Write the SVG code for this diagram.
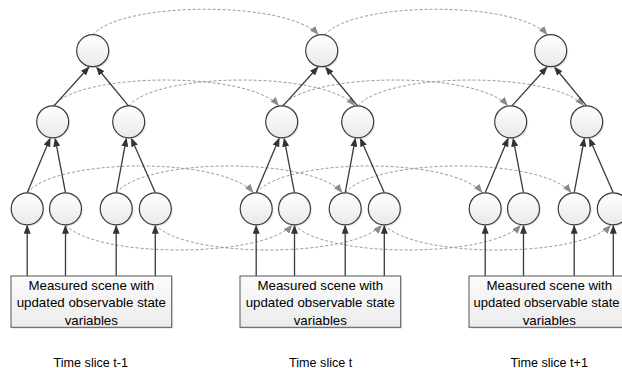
<svg xmlns="http://www.w3.org/2000/svg" width="622" height="368" viewBox="0 0 622 368">
<defs>
<linearGradient id="gNode" x1="0" y1="0" x2="0" y2="1">
<stop offset="0" stop-color="#ffffff"/>
<stop offset="1" stop-color="#e9e9e9"/>
</linearGradient>
<linearGradient id="gBox" x1="0" y1="0" x2="0" y2="1">
<stop offset="0" stop-color="#fbfbfb"/>
<stop offset="1" stop-color="#ececec"/>
</linearGradient>
<marker id="aDark" viewBox="0 0 9 7" refX="9" refY="3.5" markerWidth="9" markerHeight="7" markerUnits="userSpaceOnUse" orient="auto">
<path d="M0,0 L9,3.5 L0,7 z" fill="#333333"/>
</marker>
<marker id="aGray" viewBox="0 0 9 7" refX="9" refY="3.5" markerWidth="9" markerHeight="7" markerUnits="userSpaceOnUse" orient="auto">
<path d="M0,0 L9,3.5 L0,7 z" fill="#8a8a8a"/>
</marker>
</defs>
<style>
.node circle.c{fill:url(#gNode);stroke:#3a3a3a;stroke-width:1.2}
.node circle.s{fill:#d4d4d4;opacity:0.55}
.box rect.b{fill:url(#gBox);stroke:#555555;stroke-width:1}
.box rect.s{fill:#d4d4d4;opacity:0.55}
.tree{stroke:#3a3a3a;stroke-width:1.3;fill:none;marker-end:url(#aDark)}
.temp{stroke:#9a9a9a;stroke-width:1;stroke-dasharray:3,2;fill:none;marker-end:url(#aGray)}
.t{font-family:"Liberation Sans",Arial,sans-serif;font-size:13.3px;fill:#000;text-anchor:middle}
.lbl{font-family:"Liberation Sans",Arial,sans-serif;font-size:12.6px;fill:#000;text-anchor:middle}
</style>

<g id="connectors">
<path class="temp" d="M92.7,34.7 C122.7,0.7 288.5,0.7 318.5,35"/>
<path class="temp" d="M324.7,34.8 C354.7,0.7 517.5,0.7 547.5,35"/>
<path class="temp" d="M52.7,105.8 C82.7,71.4 249,71.4 279,106"/>
<path class="temp" d="M128.7,105.8 C158.7,71.4 325,71.4 355,106"/>
<path class="temp" d="M281.7,105.8 C311.7,71.4 478,71.4 508,106"/>
<path class="temp" d="M357.7,105.8 C387.7,71.4 554,71.4 584,106"/>
<path class="temp" d="M27.2,192.8 C57,157 223.5,157 253.5,193"/>
<path class="temp" d="M116.2,192.8 C146,157 312.5,157 342.5,193"/>
<path class="temp" d="M256.2,192.8 C286,157 452.5,157 482.5,193"/>
<path class="temp" d="M345.2,192.8 C375,157 541.5,157 571.5,193"/>
<path class="temp" d="M65.5,224.8 C95.5,258.4 262.5,258.4 292.5,224.7"/>
<path class="temp" d="M155.3,224.8 C185.3,258.4 352,258.4 382,224.7"/>
<path class="temp" d="M294.5,224.8 C324.5,258.4 491,258.4 521,224.7"/>
<path class="temp" d="M384.3,224.8 C414.3,258.4 581,258.4 611,224.7"/>

<line class="tree" x1="54" y1="105.9" x2="89.5" y2="66.5"/>
<line class="tree" x1="128.5" y1="105.9" x2="96" y2="66.5"/>
<line class="tree" x1="27.2" y1="192.8" x2="50.5" y2="137.6"/>
<line class="tree" x1="65.5" y1="192.8" x2="55" y2="137.6"/>
<line class="tree" x1="116.2" y1="192.8" x2="126.5" y2="137.6"/>
<line class="tree" x1="155.3" y1="192.8" x2="131" y2="137.6"/>
<line class="tree" x1="27.2" y1="276" x2="27.2" y2="224.8"/>
<line class="tree" x1="65.5" y1="276" x2="65.5" y2="224.8"/>
<line class="tree" x1="116.2" y1="276" x2="116.2" y2="224.8"/>
<line class="tree" x1="155.3" y1="276" x2="155.3" y2="224.8"/>

<line class="tree" x1="283" y1="105.9" x2="318.5" y2="66.5"/>
<line class="tree" x1="357.5" y1="105.9" x2="325" y2="66.5"/>
<line class="tree" x1="256.2" y1="192.8" x2="279.5" y2="137.6"/>
<line class="tree" x1="294.5" y1="192.8" x2="284" y2="137.6"/>
<line class="tree" x1="345.2" y1="192.8" x2="355.5" y2="137.6"/>
<line class="tree" x1="384.3" y1="192.8" x2="360" y2="137.6"/>
<line class="tree" x1="256.2" y1="276" x2="256.2" y2="224.8"/>
<line class="tree" x1="294.5" y1="276" x2="294.5" y2="224.8"/>
<line class="tree" x1="345.2" y1="276" x2="345.2" y2="224.8"/>
<line class="tree" x1="384.3" y1="276" x2="384.3" y2="224.8"/>

<line class="tree" x1="512" y1="105.9" x2="547.5" y2="66.5"/>
<line class="tree" x1="586.5" y1="105.9" x2="554" y2="66.5"/>
<line class="tree" x1="485.2" y1="192.8" x2="508.5" y2="137.6"/>
<line class="tree" x1="523.5" y1="192.8" x2="513" y2="137.6"/>
<line class="tree" x1="574.2" y1="192.8" x2="584.5" y2="137.6"/>
<line class="tree" x1="613.3" y1="192.8" x2="589" y2="137.6"/>
<line class="tree" x1="485.2" y1="276" x2="485.2" y2="224.8"/>
<line class="tree" x1="523.5" y1="276" x2="523.5" y2="224.8"/>
<line class="tree" x1="574.2" y1="276" x2="574.2" y2="224.8"/>
<line class="tree" x1="613.3" y1="276" x2="613.3" y2="224.8"/>
</g>

<g id="top-t-1" class="node"><circle class="s" cx="94.2" cy="52.2" r="16"/><circle class="c" cx="92.7" cy="50.7" r="16"/></g>
<g id="mid1-t-1" class="node"><circle class="s" cx="54.2" cy="123.3" r="16"/><circle class="c" cx="52.7" cy="121.8" r="16"/></g>
<g id="mid2-t-1" class="node"><circle class="s" cx="130.2" cy="123.3" r="16"/><circle class="c" cx="128.7" cy="121.8" r="16"/></g>
<g id="obs1-t-1" class="node"><circle class="s" cx="28.7" cy="210.3" r="16"/><circle class="c" cx="27.2" cy="208.8" r="16"/></g>
<g id="obs2-t-1" class="node"><circle class="s" cx="67" cy="210.3" r="16"/><circle class="c" cx="65.5" cy="208.8" r="16"/></g>
<g id="obs3-t-1" class="node"><circle class="s" cx="117.7" cy="210.3" r="16"/><circle class="c" cx="116.2" cy="208.8" r="16"/></g>
<g id="obs4-t-1" class="node"><circle class="s" cx="156.8" cy="210.3" r="16"/><circle class="c" cx="155.3" cy="208.8" r="16"/></g>
<g id="scene-t-1" class="box">
<rect class="s" x="12.5" y="277.5" width="160.7" height="51.3"/>
<rect class="b" x="11" y="276" width="160.7" height="51.3"/>
<text class="t" x="91.3" y="289.5">Measured scene with</text>
<text class="t" x="91.3" y="307">updated observable state</text>
<text class="t" x="91.3" y="324.5">variables</text>
</g>

<g id="top-t" class="node"><circle class="s" cx="323.2" cy="52.2" r="16"/><circle class="c" cx="321.7" cy="50.7" r="16"/></g>
<g id="mid1-t" class="node"><circle class="s" cx="283.2" cy="123.3" r="16"/><circle class="c" cx="281.7" cy="121.8" r="16"/></g>
<g id="mid2-t" class="node"><circle class="s" cx="359.2" cy="123.3" r="16"/><circle class="c" cx="357.7" cy="121.8" r="16"/></g>
<g id="obs1-t" class="node"><circle class="s" cx="257.7" cy="210.3" r="16"/><circle class="c" cx="256.2" cy="208.8" r="16"/></g>
<g id="obs2-t" class="node"><circle class="s" cx="296" cy="210.3" r="16"/><circle class="c" cx="294.5" cy="208.8" r="16"/></g>
<g id="obs3-t" class="node"><circle class="s" cx="346.7" cy="210.3" r="16"/><circle class="c" cx="345.2" cy="208.8" r="16"/></g>
<g id="obs4-t" class="node"><circle class="s" cx="385.8" cy="210.3" r="16"/><circle class="c" cx="384.3" cy="208.8" r="16"/></g>
<g id="scene-t" class="box">
<rect class="s" x="241.5" y="277.5" width="160.7" height="51.3"/>
<rect class="b" x="240" y="276" width="160.7" height="51.3"/>
<text class="t" x="320.3" y="289.5">Measured scene with</text>
<text class="t" x="320.3" y="307">updated observable state</text>
<text class="t" x="320.3" y="324.5">variables</text>
</g>

<g id="top-t+1" class="node"><circle class="s" cx="552.2" cy="52.2" r="16"/><circle class="c" cx="550.7" cy="50.7" r="16"/></g>
<g id="mid1-t+1" class="node"><circle class="s" cx="512.2" cy="123.3" r="16"/><circle class="c" cx="510.7" cy="121.8" r="16"/></g>
<g id="mid2-t+1" class="node"><circle class="s" cx="588.2" cy="123.3" r="16"/><circle class="c" cx="586.7" cy="121.8" r="16"/></g>
<g id="obs1-t+1" class="node"><circle class="s" cx="486.7" cy="210.3" r="16"/><circle class="c" cx="485.2" cy="208.8" r="16"/></g>
<g id="obs2-t+1" class="node"><circle class="s" cx="525" cy="210.3" r="16"/><circle class="c" cx="523.5" cy="208.8" r="16"/></g>
<g id="obs3-t+1" class="node"><circle class="s" cx="575.7" cy="210.3" r="16"/><circle class="c" cx="574.2" cy="208.8" r="16"/></g>
<g id="obs4-t+1" class="node"><circle class="s" cx="614.8" cy="210.3" r="16"/><circle class="c" cx="613.3" cy="208.8" r="16"/></g>
<g id="scene-t+1" class="box">
<rect class="s" x="470.5" y="277.5" width="160.7" height="51.3"/>
<rect class="b" x="469" y="276" width="160.7" height="51.3"/>
<text class="t" x="549.3" y="289.5">Measured scene with</text>
<text class="t" x="546.5" y="307" style="font-size:13px">updated observable state</text>
<text class="t" x="549.3" y="324.5">variables</text>
</g>

<g id="labels">
<text class="lbl" x="90.8" y="366.5">Time slice t-1</text>
<text class="lbl" x="320.7" y="366.5">Time slice t</text>
<text class="lbl" x="549.2" y="366.5">Time slice t+1</text>
</g>
</svg>
